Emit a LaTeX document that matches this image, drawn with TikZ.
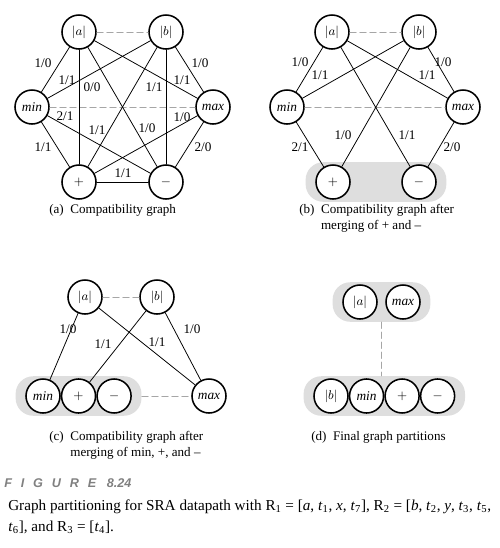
\documentclass[tikz,border=0pt]{standalone}
\usepackage{fontspec}
\setmainfont{Liberation Serif}
\newfontfamily\figfont[LetterSpace=70]{Liberation Sans}
\newfontfamily\fignum{Liberation Sans}
\usepackage{tikz}
\usetikzlibrary{
	positioning,
	fit,
	backgrounds
}
\colorlet{GrpGray}{black!13}
\colorlet{DashGray}{black!35}
\colorlet{FigGray}{black!50}
\newcommand{\tv}[1]{\textit{t}\textsubscript{#1}}
\newcommand{\Rv}[1]{R\textsubscript{#1}}
\tikzset{
	vtx/.style={circle, draw, fill=white, line width=1.1pt, minimum size=8.5mm, inner sep=0pt, font=\fontsize{9.5}{10}\selectfont},
	link/.style={line width=0.55pt},
	cmp/.style={DashGray, line width=0.6pt, dash pattern=on 1.6mm off 0.9mm},
	wlab/.style={inner sep=0.5pt, font=\fontsize{9.4}{10}\selectfont},
	grp/.style={fill=GrpGray, rounded corners=4.4mm, inner xsep=2.4mm, inner ysep=0.5mm},
	subcap/.style={anchor=base west, inner sep=0pt, font=\fontsize{9.3}{11.4}\selectfont}
}

\begin{document}
\begin{tikzpicture}[x=0.25mm, y=-0.25mm, line cap=round, line join=round]
	\useasboundingbox (0,0) rectangle (500,548);
	
	% -- (a) full compatibility graph ---------------------------
	\node[vtx] (aA)     at (79,32)   {$|a|$};
	\node[vtx] (bA)     at (166,32)  {$|b|$};
	\node[vtx] (minA)   at (32,107)  {\textit{min}};
	\node[vtx] (maxA)   at (213,107) {\textit{max}};
	\node[vtx] (plusA)  at (79,182)  {$+$};
	\node[vtx] (minusA) at (166,182) {$-$};
	
	\draw[cmp] (aA) -- (bA);
	\draw[cmp] (minA) -- (maxA);
	\draw[link] (aA) -- (minA);
	\draw[link] (aA) -- (plusA);
	\draw[link] (aA) -- (maxA);
	\draw[link] (aA) -- (minusA);
	\draw[link] (bA) -- (minA);
	\draw[link] (bA) -- (plusA);
	\draw[link] (bA) -- (minusA);
	\draw[link] (bA) -- (maxA);
	\draw[link] (minA) -- (plusA);
	\draw[link] (minA) -- (minusA);
	\draw[link] (maxA) -- (plusA);
	\draw[link] (maxA) -- (minusA);
	\draw[link] (plusA) -- (minusA);
	
	\node[wlab] (wA1)  at (43,63)   {1/0};
	\node[wlab] (wA2)  at (67,80)   {1/1};
	\node[wlab] (wA3)  at (92,87)   {0/0};
	\node[wlab] (wA4)  at (154,87)  {1/1};
	\node[wlab] (wA5)  at (182,80)  {1/1};
	\node[wlab] (wA6)  at (200,63)  {1/0};
	\node[wlab] (wA7)  at (65,116)  {2/1};
	\node[wlab] (wA8)  at (97,130)  {1/1};
	\node[wlab] (wA9)  at (147,128) {1/0};
	\node[wlab] (wA10) at (182,117) {1/0};
	\node[wlab] (wA11) at (43,147)  {1/1};
	\node[wlab] (wA12) at (203,147) {2/0};
	\node[wlab] (wA13) at (123,173) {1/1};
	
	\node[subcap] (capA) at (49,213) {(a)\enspace Compatibility graph};
	
	% -- (b) after merging + and - -------------------------------
	\node[vtx] (aB)     at (332,32)  {$|a|$};
	\node[vtx] (bB)     at (419,32)  {$|b|$};
	\node[vtx] (minB)   at (287,107) {\textit{min}};
	\node[vtx] (maxB)   at (463,107) {\textit{max}};
	\node[vtx] (plusB)  at (333,182) {$+$};
	\node[vtx] (minusB) at (419,182) {$-$};
	\begin{scope}[on background layer]
		\node[grp, fit=(plusB)(minusB)] (gB) {};
	\end{scope}
	
	\draw[cmp] (aB) -- (bB);
	\draw[cmp] (minB) -- (maxB);
	\draw[link] (aB) -- (minB);
	\draw[link] (bB) -- (minB);
	\draw[link] (aB) -- (maxB);
	\draw[link] (bB) -- (maxB);
	\draw[link] (bB) -- (plusB);
	\draw[link] (aB) -- (minusB);
	\draw[link] (minB) -- (plusB);
	\draw[link] (maxB) -- (minusB);
	
	\node[wlab] (wB1) at (300,62)  {1/0};
	\node[wlab] (wB2) at (320,75)  {1/1};
	\node[wlab] (wB3) at (427,75)  {1/1};
	\node[wlab] (wB4) at (443,62)  {1/0};
	\node[wlab] (wB5) at (343,135) {1/0};
	\node[wlab] (wB6) at (407,135) {1/1};
	\node[wlab] (wB7) at (300,147) {2/1};
	\node[wlab] (wB8) at (452,147) {2/0};
	
	\node[subcap] (capB) at (299,213)
	{\begin{tabular}[t]{@{}l@{\enspace}l@{}}(b) & Compatibility graph after\\ & merging of + and --\end{tabular}};
	
	% -- (c) after merging min, + and - --------------------------
	\node[vtx] (aC)    at (85,297)  {$|a|$};
	\node[vtx] (bC)    at (157,297) {$|b|$};
	\node[vtx] (minC)  at (43,396)  {\textit{min}};
	\node[vtx, right=0mm of minC]  (plusC)  {$+$};
	\node[vtx, right=0mm of plusC] (minusC) {$-$};
	\node[vtx] (maxC)  at (209,396) {\textit{max}};
	\begin{scope}[on background layer]
		\node[grp, fit=(minC)(minusC)] (gC) {};
	\end{scope}
	
	\draw[cmp] (aC) -- (bC);
	\draw[cmp] (gC) -- (maxC);
	\draw[link] (aC) -- (minC);
	\draw[link] (bC) -- (plusC);
	\draw[link] (aC) -- (maxC);
	\draw[link] (bC) -- (maxC);
	
	\node[wlab] (wC1) at (68,329)  {1/0};
	\node[wlab] (wC2) at (103,344) {1/1};
	\node[wlab] (wC3) at (157,342) {1/1};
	\node[wlab] (wC4) at (192,329) {1/0};
	
	\node[subcap] (capC) at (49,440.5)
	{\begin{tabular}[t]{@{}l@{\enspace}l@{}}(c) & Compatibility graph after\\ & merging of min, +, and --\end{tabular}};
	
	% -- (d) final partitions -------------------------------------
	\node[vtx] (aD)   at (360,302) {$|a|$};
	\node[vtx] (maxD) at (403,302) {\textit{max}};
	\node[vtx] (bD)   at (331,396) {$|b|$};
	\node[vtx, right=0mm of bD]    (minD)   {\textit{min}};
	\node[vtx, right=0mm of minD]  (plusD)  {$+$};
	\node[vtx, right=0mm of plusD] (minusD) {$-$};
	\begin{scope}[on background layer]
		\node[grp, fit=(aD)(maxD)] (gD1) {};
		\node[grp, fit=(bD)(minusD)] (gD2) {};
	\end{scope}
	
	\draw[cmp] (gD1.south) -- (gD1.south |- gD2.north);
	
	\node[subcap] (capD) at (311,440.5) {(d)\enspace Final graph partitions};
	
	% -- figure caption -------------------------------------------
	\node[anchor=base west, inner sep=0pt, FigGray, font=\bfseries\itshape\fontsize{9}{10}\selectfont]
	(figno) at (4,487) {{\figfont FIGURE}\hspace{2.6mm}{\fignum 8.24}};
	\node[anchor=base west, inner sep=0pt, font=\fontsize{10.8}{15}\selectfont] (figcap) at (8,510)
	{\begin{tabular}[t]{@{}l@{}}Graph partitioning for SRA datapath with \Rv{1} = [\textit{a}, \tv{1}, \textit{x}, \tv{7}], \Rv{2} = [\textit{b}, \tv{2}, \textit{y}, \tv{3}, \tv{5},\\
	\tv{6}], and \Rv{3} = [\tv{4}].\end{tabular}};
	
\end{tikzpicture}
\end{document}
